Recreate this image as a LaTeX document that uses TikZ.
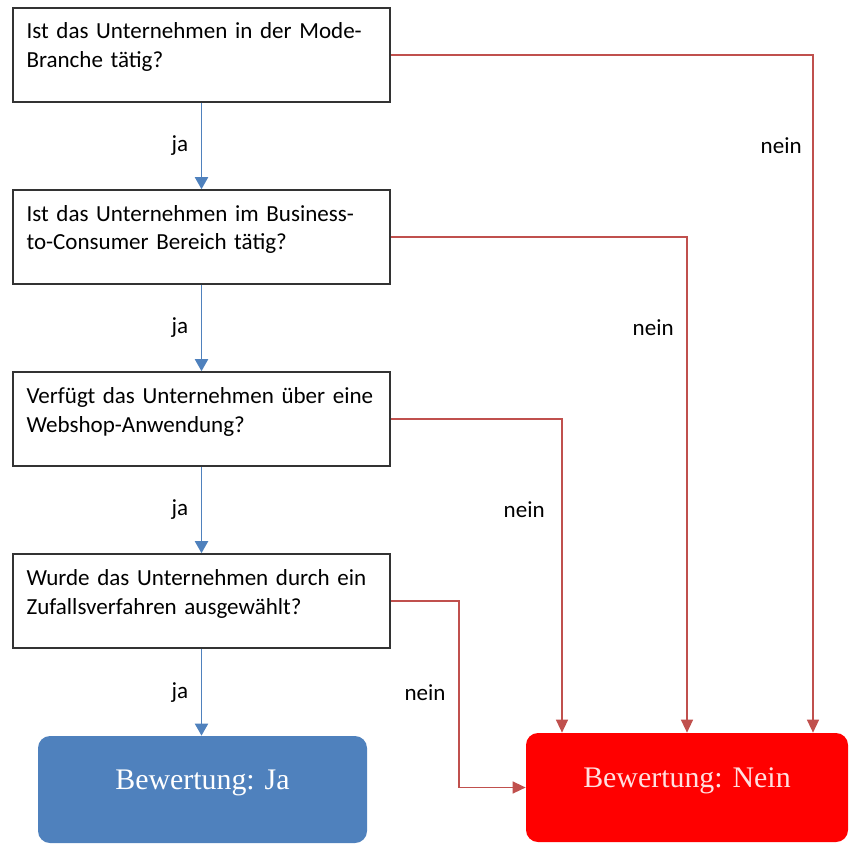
\documentclass[tikz,border=0pt]{standalone}
\usepackage{fontspec}
\setmainfont{Carlito}
\newfontfamily\resfont{Liberation Serif}
\usepackage{tikz}
\usetikzlibrary{calc}
\usetikzlibrary{positioning}
\usetikzlibrary{arrows.meta}

\definecolor{yesblue}{RGB}{79,129,189}
\definecolor{nored}{RGB}{192,80,77}

\begin{document}
\begin{tikzpicture}[
		question/.style={rectangle, draw=black!80, line width=0.9pt, align=left, text width=7.0cm,
			inner xsep=0.27cm, inner ysep=0pt, minimum height=1.88cm,
			text height=0.62cm, text depth=1.26cm, font=\fontsize{13.1}{16.5}\selectfont},
		result/.style={rectangle, rounded corners=0.24cm, text=white, inner sep=0pt,
			text height=0.3cm, text depth=0.3cm, font=\resfont\fontsize{17}{20}\selectfont},
		yes/.style={draw=yesblue, line width=1.1pt, -{Triangle[width=0.26cm,length=0.24cm]}},
		no/.style={draw=nored, line width=0.8pt, -{Triangle[width=0.24cm,length=0.26cm]}},
		lbl/.style={inner sep=0pt, font=\fontsize{13.1}{16.5}\selectfont}
		]
		
		\useasboundingbox (0,0) rectangle (16.98,-16.86);
		
		% Questions
		\node[question] (q1) at (4.03,-1.10) {Ist das Unternehmen in der Mode-\\Branche tätig?};
		\node[question] (q2) at (4.03,-4.74) {Ist das Unternehmen im Business-\\to-Consumer Bereich tätig?};
		\node[question] (q3) at (4.03,-8.38) {\mbox{Verfügt das Unternehmen über eine}\\Webshop-Anwendung?};
		\node[question] (q4) at (4.03,-12.02) {\mbox{Wurde das Unternehmen durch ein}\\Zufallsverfahren ausgewählt?};
		
		% Results
		\node[result, fill=yesblue, minimum width=6.58cm, minimum height=2.14cm] (rja) at (4.05,-15.79) {Bewertung: Ja};
		\node[result, fill=red, text=white!88!red, minimum width=6.44cm, minimum height=2.18cm] (rno) at (13.74,-15.75) {Bewertung: Nein};
		
		% Where the nein lines come down
		\coordinate (c1) at ([xshift=2.52cm]rno.north);
		\coordinate (c2) at (rno.north);
		\coordinate (c3) at ([xshift=-2.5cm]rno.north);
		\coordinate (c4) at ([xshift=1.36cm]q4.east);
		
		% ja
		\draw[yes] (q1) -- (q2) coordinate[midway] (m1);
		\draw[yes] (q2) -- (q3) coordinate[midway] (m2);
		\draw[yes] (q3) -- (q4) coordinate[midway] (m3);
		\draw[yes] (q4.south) -- (q4.south |- rja.north) coordinate[midway] (m4);
		
		% nein
		\draw[no] (q1.east) -| (c1);
		\draw[no] (q2.east) -| (c2);
		\draw[no] (q3.east) -| (c3);
		\draw[no] (q4.east) -- (c4) |- (rno.west);
		
		% Labels
		\node[lbl, left=0.26cm] at (m1) {ja};
		\node[lbl, left=0.26cm] at (m2) {ja};
		\node[lbl, left=0.26cm] at (m3) {ja};
		\node[lbl, left=0.26cm] at (m4) {ja};
		\node[lbl, left=0.22cm] at (m1 -| c1) {nein};
		\node[lbl, left=0.26cm] at (m2 -| c2) {nein};
		\node[lbl, left=0.34cm] at (m3 -| c3) {nein};
		\node[lbl, left=0.26cm] at (m4 -| c4) {nein};
		
	\end{tikzpicture}
\end{document}
